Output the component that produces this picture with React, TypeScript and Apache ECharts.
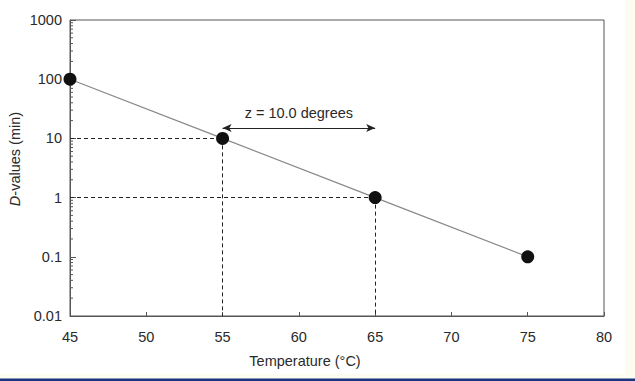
import React, { useEffect, useRef } from "react";
import * as echarts from "echarts";

const temperatures = [45, 55, 65, 75];
const dValues = [100, 10, 1, 0.1];
const refTemps = [55, 65];
const refDValues = [10, 1];
const arrowFrom = 55;
const arrowTo = 65;
const arrowY = 15;
const arrowLabel = "z = 10.0 degrees";
const xMin = 45;
const xMax = 80;
const xStep = 5;
const yMin = 0.01;
const yMax = 1000;
const xTitle = "Temperature (°C)";
const yTitleItalic = "D";
const yTitleRest = "-values (min)";
const minorMultipliers = [2, 3, 4, 5, 6, 7, 8, 9];
const decades = [0.01, 0.1, 1, 10, 100];

const FONT = "'Liberation Sans', Arial, Helvetica, sans-serif";
const TEXT = "#2a2a2a";
const AXIS = "#555";
const FS = 14.5;

export default function App() {
  const ref = useRef<HTMLDivElement>(null);
  useEffect(() => {
    document.body.style.margin = "0";
    const chart = echarts.init(ref.current!, null, { renderer: "svg" });
    const minorTicks: number[][] = [];
    decades.forEach((d) => minorMultipliers.forEach((m) => minorTicks.push([xMin, +(d * m).toPrecision(3)])));
    const dashed: any[] = [];
    refTemps.forEach((t, i) => {
      dashed.push([{ coord: [xMin, refDValues[i]] }, { coord: [t, refDValues[i]] }]);
      dashed.push([{ coord: [t, refDValues[i]] }, { coord: [t, yMin] }]);
    });
    chart.setOption({
      animation: false,
      backgroundColor: "#fff",
      textStyle: { fontFamily: FONT },
      grid: { left: 70, right: 31, top: 20, bottom: 65, show: true, borderColor: AXIS, borderWidth: 1, backgroundColor: "transparent" },
      xAxis: {
        type: "value",
        min: xMin,
        max: xMax,
        interval: xStep,
        axisLine: { show: true, lineStyle: { color: AXIS, width: 1 } },
        axisTick: { show: true, inside: true, length: 4, lineStyle: { color: AXIS } },
        axisLabel: { color: TEXT, fontSize: FS, margin: 13, fontFamily: FONT },
        splitLine: { show: false },
      },
      yAxis: {
        type: "log",
        logBase: 10,
        min: yMin,
        max: yMax,
        axisLine: { show: true, lineStyle: { color: AXIS, width: 1 } },
        axisTick: { show: true, inside: true, length: 6, lineStyle: { color: AXIS } },
        axisLabel: {
          color: TEXT,
          fontSize: FS,
          margin: 8,
          fontFamily: FONT,
          formatter: (v: number) => (v >= 1 ? String(Math.round(v)) : String(+v.toPrecision(1))),
        },
        splitLine: { show: false },
      },
      graphic: [
        { type: "rect", shape: { x: 625, y: 0, width: 10, height: 381 }, style: { fill: "#fcfcf0" }, silent: true },
        { type: "rect", shape: { x: 0, y: 374, width: 635, height: 5 }, style: { fill: "#fcfcf0" }, silent: true },
        { type: "rect", shape: { x: 0, y: 378.5, width: 635, height: 3 }, style: { fill: "#1a3580" }, silent: true },
        {
          type: "text",
          x: 305,
          y: 361,
          style: { text: xTitle, fill: TEXT, font: `${FS}px ${FONT}`, align: "center", verticalAlign: "middle" },
        },
        {
          type: "text",
          x: 15,
          y: 159,
          rotation: Math.PI / 2,
          style: {
            text: `{i|${yTitleItalic}}{n|${yTitleRest}}`,
            align: "center",
            verticalAlign: "middle",
            rich: {
              i: { fontStyle: "italic", fontSize: FS, fontFamily: FONT, fill: TEXT },
              n: { fontSize: FS, fontFamily: FONT, fill: TEXT },
            },
          },
        },
      ],
      series: [
        {
          type: "custom",
          silent: true,
          data: minorTicks,
          renderItem: (params: any, api: any) => {
            const p = api.coord([api.value(0), api.value(1)]);
            return {
              type: "line",
              shape: { x1: p[0], y1: p[1], x2: p[0] + 3, y2: p[1] },
              style: { stroke: AXIS, lineWidth: 1 },
            };
          },
          z: 1,
        },
        {
          type: "line",
          data: temperatures.map((t, i) => [t, dValues[i]]),
          symbol: "circle",
          symbolSize: 13,
          itemStyle: { color: "#111" },
          lineStyle: { color: "#888", width: 1.2 },
          z: 5,
          markLine: {
            silent: true,
            symbol: ["none", "none"],
            label: { show: false },
            lineStyle: { color: "#222", width: 1, type: [4, 3] },
            data: dashed,
            z: 2,
          },
        },
        {
          type: "line",
          data: [],
          markLine: {
            silent: true,
            symbol: ["arrow", "arrow"],
            symbolSize: [6, 9],
            lineStyle: { color: "#222", width: 1, type: "solid" },
            label: { show: true, position: "middle", formatter: arrowLabel, color: TEXT, fontSize: FS, fontFamily: FONT, distance: 7 },
            data: [[{ coord: [arrowFrom, arrowY] }, { coord: [arrowTo, arrowY] }]],
          },
        },
      ],
    });
    return () => chart.dispose();
  }, []);
  return <div ref={ref} style={{ width: 635, height: 381 }} />;
}
